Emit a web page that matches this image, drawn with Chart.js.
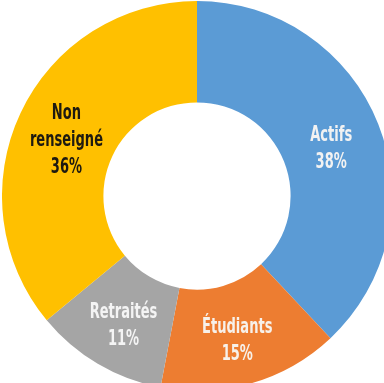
<!DOCTYPE html>
<html>
<head>
<meta charset="utf-8">
<script src="https://cdn.jsdelivr.net/npm/chart.js@4"></script>
<style>
  html, body { margin: 0; padding: 0; background: #fff; overflow: hidden; width: 384px; height: 383px; }
  #wrap { position: absolute; left: 2px; top: 1px; width: 390px; height: 390px; }
</style>
</head>
<body>
<div id="wrap"><canvas id="chart"></canvas></div>
<script>
// Data
const categories = ["Actifs", "Étudiants", "Retraités", "Non renseigné"];
const shares = [38, 15, 11, 36];

// Slice colours and label colours
const sliceColors = ["#5b9bd5", "#ed7d31", "#a5a5a5", "#ffc000"];
const textColors = ["#f2f2f2", "#f7f1ea", "#f4f4f4", "#1e1a10"];

// Labels split over lines like in the picture
function labelLines(i) {
  const name = categories[i] === "Non renseigné" ? ["Non", "renseigné"] : [categories[i]];
  return name.concat([shares[i] + "%"]);
}

// Draw the names and percentages in the middle of each slice
// (squeezed sideways to look like the condensed face of the original)
const sliceLabels = {
  id: "sliceLabels",
  afterDatasetsDraw(chart) {
    const ctx = chart.ctx;
    const meta = chart.getDatasetMeta(0);
    const squeeze = 0.69;
    const lineHeight = 27;
    meta.data.forEach((arc, i) => {
      const p = arc.getCenterPoint();
      const lines = labelLines(i);
      const top = p.y + 6 - ((lines.length - 1) * lineHeight) / 2;
      ctx.save();
      ctx.translate(p.x, 0);
      ctx.scale(squeeze, 1);
      ctx.font = "bold 21px 'DejaVu Sans Condensed', 'DejaVu Sans', sans-serif";
      ctx.textAlign = "center";
      ctx.textBaseline = "middle";
      ctx.fillStyle = textColors[i];
      lines.forEach((t, k) => ctx.fillText(t, 0, top + k * lineHeight));
      ctx.restore();
    });
  },
};

new Chart(document.getElementById("chart"), {
  type: "doughnut",
  data: {
    labels: categories,
    datasets: [
      {
        data: shares,
        backgroundColor: sliceColors,
        borderWidth: 0,
      },
    ],
  },
  options: {
    responsive: true,
    maintainAspectRatio: false,
    animation: false,
    cutout: "48%",
    layout: { padding: 0 },
    plugins: {
      legend: { display: false },
      tooltip: { enabled: false },
    },
  },
  plugins: [sliceLabels],
});
</script>
</body>
</html>
